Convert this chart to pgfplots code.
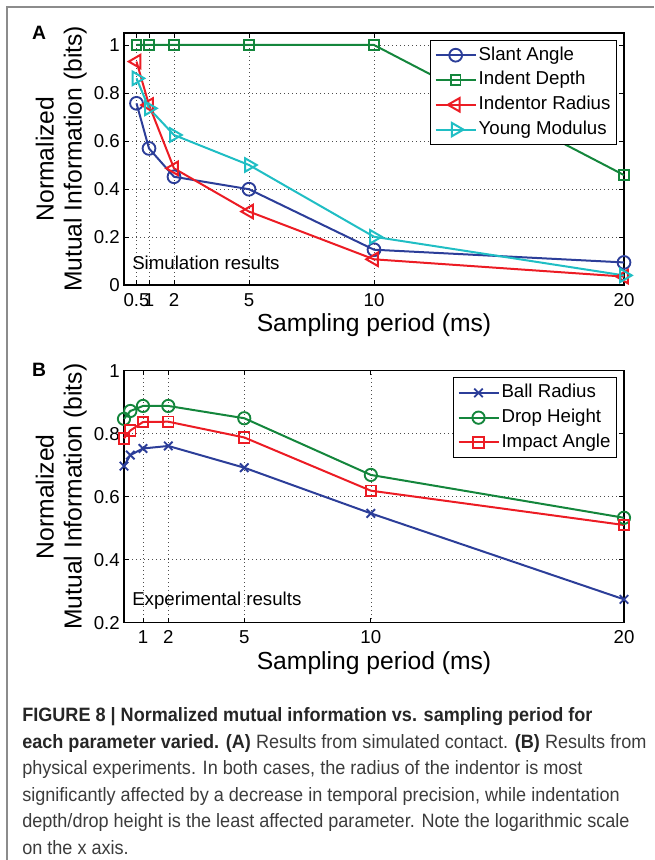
\documentclass[border=0pt]{standalone}
\usepackage{fontspec}
\setmainfont{Liberation Sans}
\newfontfamily\capfont{Liberation Sans}[FakeStretch=0.935]
\usepackage{pgfplots}
\pgfplotsset{compat=1.18}

\definecolor{cBlue}{RGB}{44,62,153}
\definecolor{cGreen}{RGB}{20,134,60}
\definecolor{cRed}{RGB}{236,28,36}
\definecolor{cCyan}{RGB}{32,190,196}
\definecolor{frameGray}{RGB}{140,140,140}
\definecolor{capGray}{RGB}{60,60,60}

\pgfplotsset{
  miplot/.style={
    scale only axis, width=375pt, height=189pt,
    clip=false,
    axis line style={line width=0.9pt},
    tick align=inside, major tick length=3.5pt,
    tick style={line width=0.7pt, black},
    grid=major,
    major grid style={black!70, line width=0.5pt, dash pattern=on 0.7pt off 2.3pt},
    /pgf/number format/assume math mode=true,
    ticklabel style={font=\fontsize{14}{16}\selectfont},
    xticklabel style={anchor=base, yshift=-16pt, inner sep=0pt},
    yticklabel style={anchor=east, inner sep=0pt, xshift=-3pt},
    every axis x label/.style={at={(axis description cs:0.5,0)}, anchor=base,
      yshift=-35pt, inner sep=0pt, font=\fontsize{18.5}{21}\selectfont},
    every axis y label/.style={at={(axis description cs:-0.074,0.5)}, rotate=90,
      anchor=south, inner sep=0pt, align=center, font=\fontsize{18.5}{21}\selectfont},
    xlabel={Sampling period (ms)},
    ylabel={Normalized\\Mutual Information (bits)},
    legend cell align=left,
    legend style={at={(axis description cs:1,1)}, anchor=north east,
      xshift=-5.25pt, yshift=-5pt, draw=black, line width=0.8pt,
      font=\fontsize{14}{16}\selectfont, inner sep=3pt, row sep=2.1pt,
      nodes={text height=10.5pt, text depth=3pt, inner sep=1.5pt}},
    legend image code/.code={
      \draw[mark repeat=2,mark phase=2] plot coordinates {(0pt,0pt) (15pt,0pt) (30pt,0pt)};
    },
    every axis plot/.append style={line width=1.5pt, mark options={solid, line width=1.4pt}},
  }
}

\begin{document}
\begin{tikzpicture}
\useasboundingbox (0,0) rectangle (490.5pt,645pt);

% page frame
\draw[frameGray, line width=1pt] (5.25pt,0) -- (5.25pt,639.75pt) -- (490.5pt,639.75pt);

% ---------------- A: simulation ----------------
\begin{axis}[miplot,
  at={(93pt,431.25pt)}, anchor=south west,
  xmin=0, xmax=20, ymin=0, ymax=1.05,
  xtick={0.5,1,2,5,10,20}, xticklabels={0.5,1,2,5,10,20},
  ytick={0,0.2,0.4,0.6,0.8,1}, yticklabels={0,0.2,0.4,0.6,0.8,1},
]
\addplot[cBlue, mark=o, mark size=4.8pt] coordinates {
  (0.5,0.757) (1,0.569) (2,0.451) (5,0.399) (10,0.147) (20,0.094)};
\addlegendentry{Slant Angle}
\addplot[cGreen, mark=square, mark size=3.6pt] coordinates {
  (0.5,1.0) (1,1.0) (2,1.0) (5,1.0) (10,1.0) (20,0.458)};
\addlegendentry{Indent Depth}
\addplot[cRed, mark=triangle, mark size=5.8pt, mark options={rotate=90}] coordinates {
  (0.5,0.931) (1,0.750) (2,0.486) (5,0.306) (10,0.107) (20,0.035)};
\addlegendentry{Indentor Radius}
\addplot[cCyan, mark=triangle, mark size=5.8pt, mark options={rotate=-90}] coordinates {
  (0.5,0.861) (1,0.736) (2,0.625) (5,0.500) (10,0.201) (20,0.040)};
\addlegendentry{Young Modulus}
\node[anchor=base west, inner sep=0pt, font=\fontsize{14}{16}\selectfont]
  at (axis description cs:0.016,0.06) {Simulation results};
\end{axis}

% ---------------- B: experiments ----------------
\begin{axis}[miplot,
  at={(93pt,178pt)}, anchor=south west,
  xmin=0.25, xmax=20, ymin=0.2, ymax=1,
  xtick={1,2,5,10,20}, xticklabels={1,2,5,10,20},
  ytick={0.2,0.4,0.6,0.8,1}, yticklabels={0.2,0.4,0.6,0.8,1},
]
\addplot[cBlue, mark=x, mark size=4.5pt] coordinates {
  (0.25,0.697) (0.5,0.732) (1,0.753) (2,0.761) (5,0.692) (10,0.547) (20,0.274)};
\addlegendentry{Ball Radius}
\addplot[cGreen, mark=o, mark size=4.6pt] coordinates {
  (0.25,0.847) (0.5,0.872) (1,0.888) (2,0.888) (5,0.849) (10,0.669) (20,0.533)};
\addlegendentry{Drop Height}
\addplot[cRed, mark=square, mark size=3.9pt] coordinates {
  (0.25,0.785) (0.5,0.810) (1,0.837) (2,0.838) (5,0.788) (10,0.619) (20,0.510)};
\addlegendentry{Impact Angle}
\node[anchor=base west, inner sep=0pt, font=\fontsize{14}{16}\selectfont]
  at (axis description cs:0.016,0.07) {Experimental results};
\end{axis}

% panel letters
\node[anchor=base, inner sep=0pt, font=\bfseries\fontsize{14.5}{16}\selectfont] at (29.25pt,615pt) {A};
\node[anchor=base, inner sep=0pt, font=\bfseries\fontsize{14.5}{16}\selectfont] at (29.25pt,362.25pt) {B};

% caption
\begin{scope}[every node/.style={anchor=base west, inner sep=0pt, text=capGray,
    font=\capfont\fontsize{14.5}{16}\selectfont}]
\node at (16.5pt,103.5pt) {\textbf{\color{black!85}FIGURE 8 | Normalized mutual information vs. sampling period for}};
\node at (16.5pt,83.25pt) {\textbf{\color{black!85}each parameter varied. (A)} Results from simulated contact. \textbf{\color{black!85}(B)} Results from};
\node at (16.5pt,63.75pt) {physical experiments. In both cases, the radius of the indentor is most};
\node at (16.5pt,43.5pt) {significantly affected by a decrease in temporal precision, while indentation};
\node at (16.5pt,24pt) {depth/drop height is the least affected parameter. Note the logarithmic scale};
\node at (16.5pt,4.5pt) {on the x axis.};
\end{scope}
\end{tikzpicture}
\end{document}
